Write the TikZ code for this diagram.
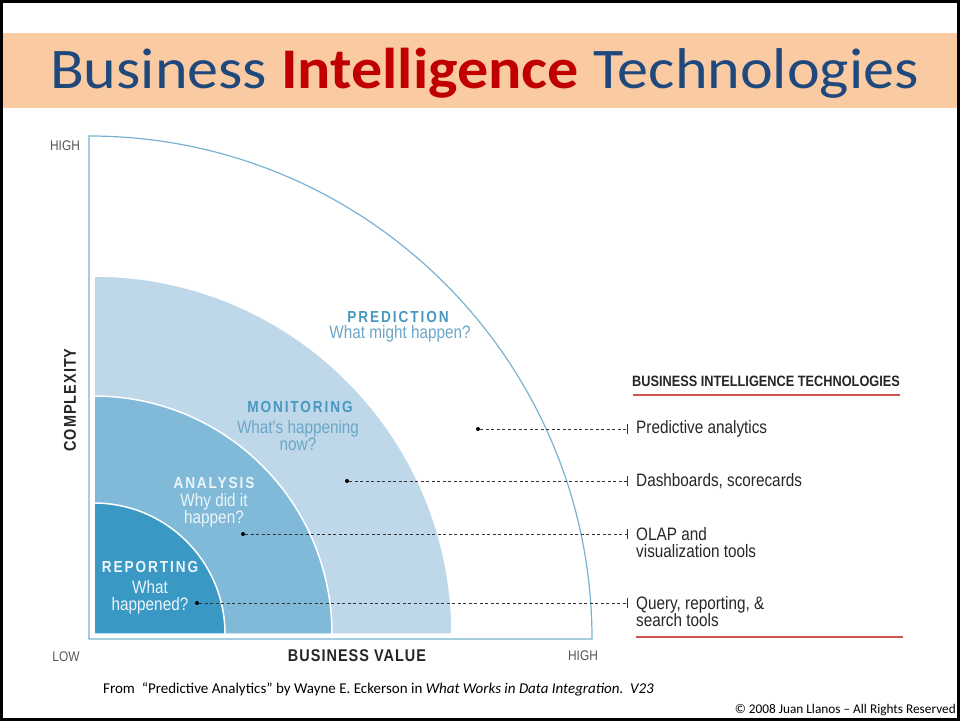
\documentclass[tikz,border=0pt]{standalone}
\usepackage{fontspec}
\setmainfont{Carlito}
\newfontfamily\titlefont[FakeStretch=1.08]{Carlito}
\newfontfamily\condfont[FakeStretch=0.85]{Liberation Sans}
\newfontfamily\trackfont[FakeStretch=0.85,LetterSpace=12]{Liberation Sans}
\newfontfamily\axisfont[FakeStretch=0.85,LetterSpace=6]{Liberation Sans}

\definecolor{titleblue}{RGB}{31,73,125}
\definecolor{titlered}{RGB}{192,0,0}
\definecolor{bannerorange}{RGB}{250,203,163}
\definecolor{axisblue}{RGB}{120,178,208}
\definecolor{monfill}{RGB}{190,216,234}
\definecolor{anafill}{RGB}{128,186,216}
\definecolor{repfill}{RGB}{58,152,196}
\definecolor{headteal}{RGB}{72,152,192}
\definecolor{questblue}{RGB}{108,166,198}
\definecolor{paletext}{RGB}{236,245,250}
\definecolor{rulered}{RGB}{205,85,75}
\definecolor{labelgray}{RGB}{85,85,85}

\begin{document}
\begin{tikzpicture}[
    x = 1pt, y = -1pt,
    head/.style = {
      font = \trackfont\bfseries\fontsize{16}{18}\selectfont,
      inner sep = 0pt
    },
    quest/.style = {
      font = \condfont\fontsize{18}{17}\selectfont,
      align = center,
      inner sep = 0pt
    },
    item/.style = {
      font = \condfont\fontsize{18}{17}\selectfont,
      text = black!85,
      anchor = west,
      align = left,
      inner sep = 0pt
    },
    axislabel/.style = {
      font = \condfont\fontsize{14}{16}\selectfont,
      text = labelgray,
      inner sep = 0pt
    },
    leaddot/.style = {
      shape = circle,
      fill = black,
      minimum size = 4pt,
      inner sep = 0pt,
      outer sep = 0pt
    },
    leader/.style = {
      draw = black!80,
      line width = 1pt,
      dash pattern = on 3pt off 2.5pt
    },
    tickbar/.style = {
      draw = black!80,
      line width = 1pt
    }
  ]
    \useasboundingbox (0, 0) rectangle (960, 721);

    % slide frame and title banner
    \fill[bannerorange] (3, 33) rectangle (957, 108);
    \draw[line width = 3pt] (1.5, 1.5) rectangle (958.5, 719.5);
    \node[anchor = base west, inner sep = 0pt, text = titleblue,
      font = \titlefont\fontsize{57.5}{63}\selectfont] (title) at (50, 88)
      {Business \textcolor{titlered}{\textbf{Intelligence}} Technologies};

    % quarter circles
    \draw[axisblue, line width = 1.2pt] (89, 639) -- (89 + 503, 639)
      arc[start angle = 0, end angle = 90, radius = 503pt] -- cycle;
    \foreach \rad/\col in {358/monfill, 238/anafill, 131/repfill} {
      \filldraw[fill = \col, draw = white, line width = 1.5pt]
        (94, 634) -- ++(\rad pt, 0) arc[start angle = 0, end angle = 90, radius = \rad pt] -- cycle;
    }

    % region labels
    \node[head, text = headteal] (pred) at (398, 317) {PREDICTION};
    \node[quest, text = questblue] (predq) at (400, 334) {What might happen?};
    \node[head, text = headteal] (mon) at (300, 407) {MONITORING};
    \node[quest, text = questblue] (monq) at (298, 436) {What's happening\\now?};
    \node[head, text = paletext] (ana) at (214, 483) {ANALYSIS};
    \node[quest, text = paletext] (anaq) at (214, 510) {Why did it\\happen?};
    \node[head, text = paletext] (rep) at (150, 567) {REPORTING};
    \node[quest, text = paletext] (repq) at (150, 597) {What\\happened?};

    % axes labels
    \node[axislabel] (yhigh) at (65, 146) {HIGH};
    \node[axislabel] (xlow) at (66, 657) {LOW};
    \node[axislabel] (xhigh) at (583, 656) {HIGH};
    \node[font = \axisfont\bfseries\fontsize{17}{19}\selectfont, text = black!85,
      inner sep = 0pt, rotate = 90] (yname) at (70, 400) {COMPLEXITY};
    \node[font = \axisfont\bfseries\fontsize{17}{19}\selectfont, text = black!85,
      inner sep = 0pt] (xname) at (357, 656) {BUSINESS VALUE};

    % legend
    \node[font = \condfont\bfseries\fontsize{15}{17}\selectfont, text = black!85,
      inner sep = 0pt] (legend) at (766, 381) {BUSINESS INTELLIGENCE TECHNOLOGIES};
    \draw[rulered, line width = 1.5pt] (633, 395) -- (900, 395);
    \draw[rulered, line width = 1.5pt] (636, 637) -- (903, 637);

    \node[item] (tech1) at (636, 429) {Predictive analytics};
    \node[item] (tech2) at (636, 481) {Dashboards, scorecards};
    \node[item] (tech3) at (636, 543) {OLAP and\\visualization tools};
    \node[item] (tech4) at (636, 612) {Query, reporting, \&\\search tools};

    \foreach \idx/\dx/\ty in {1/478/429, 2/347/481, 3/243/534, 4/197/603} {
      \node[leaddot] (d\idx) at (\dx, \ty) {};
      \coordinate (t\idx) at (627, \ty);
      \draw[leader] (d\idx) -- (t\idx);
      \draw[tickbar] ([yshift = 5pt]t\idx) -- ([yshift = -5pt]t\idx);
    }

    % source and copyright
    \node[anchor = west, inner sep = 0pt, font = \fontsize{15}{17}\selectfont] (source) at (103, 689)
      {From\ \ “Predictive Analytics” by Wayne E. Eckerson in \textit{What Works in Data Integration.\ \ V23}};
    \node[anchor = east, inner sep = 0pt, font = \fontsize{13.3}{15}\selectfont] (copy) at (956, 710)
      {© 2008 Juan Llanos – All Rights Reserved};
  \end{tikzpicture}
\end{document}
